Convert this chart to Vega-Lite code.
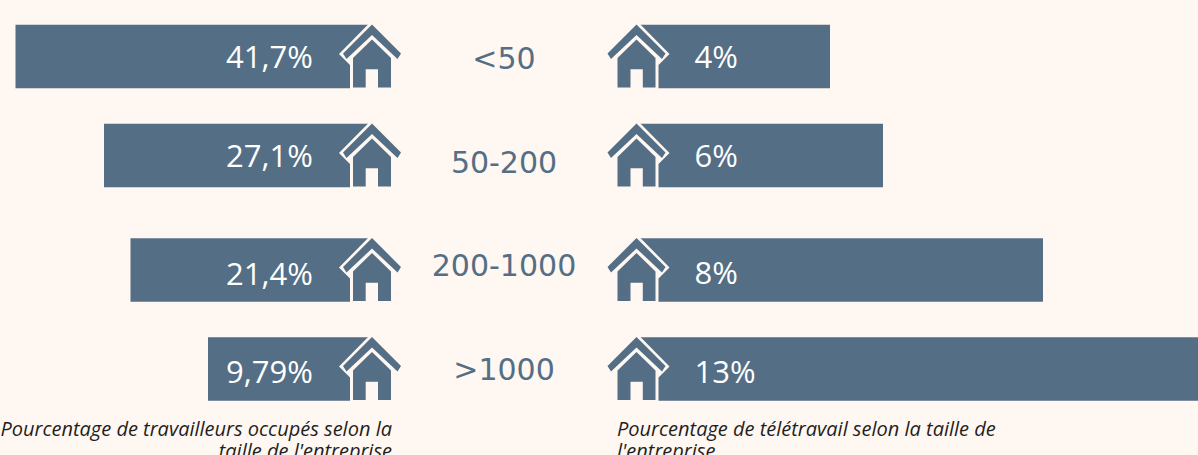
{
"$schema":"https://vega.github.io/schema/vega-lite/v6.json",
"width":1198,"height":455,"padding":0,"autosize":"none","background":"#fff7f1",
"config":{"view":{"stroke":null},"axis":{"domain":false}},
"datasets":{
"rows":[
{"taille":"<50","rang":1,"travailleurs":41.7,"teletravail":4,"labelTravailleurs":"41,7%","labelTeletravail":"4%"},
{"taille":"50-200","rang":2,"travailleurs":27.1,"teletravail":6,"labelTravailleurs":"27,1%","labelTeletravail":"6%"},
{"taille":"200-1000","rang":3,"travailleurs":21.4,"teletravail":8,"labelTravailleurs":"21,4%","labelTeletravail":"8%"},
{"taille":">1000","rang":4,"travailleurs":9.79,"teletravail":13,"labelTravailleurs":"9,79%","labelTeletravail":"13%"}
]},
"data":{"name":"rows"},
"resolve":{"scale":{"x":"independent","y":"independent"}},
"layer":[
{"mark":{"type":"bar","orient":"horizontal","height":63.5,"color":"#546e85"},
 "encoding":{"x":{"field":"travailleurs","type":"quantitative","axis":null,"scale":{"domain":[0,9.79,21.4,27.1,41.7],"range":[372,208,130.5,104,15.5],"nice":false,"zero":false,"padding":0}},"x2":{"datum":0},
 "y":{"field":"rang","type":"quantitative","axis":null,"scale":{"domain":[1,2,3,4],"range":[56.5,155.5,270,369],"nice":false,"zero":false,"padding":0}}}},
{"mark":{"type":"bar","orient":"horizontal","height":63.5,"color":"#546e85"},
 "encoding":{"x":{"field":"teletravail","type":"quantitative","axis":null,"scale":{"domain":[0,4,6,8,13],"range":[636.5,830,883,1043,1198],"nice":false,"zero":false,"padding":0}},"x2":{"datum":0},
 "y":{"field":"rang","type":"quantitative","axis":null,"scale":{"domain":[1,2,3,4],"range":[56.5,155.5,270,369],"nice":false,"zero":false,"padding":0}}}},
{"mark":{"type":"point","filled":true,"opacity":1,"size":4,"color":"#fff7f1","shape":"M0,-36L-33,-2.5L-22,8.5L-22,33L35,33L35,0Z"},
 "encoding":{"x":{"datum":0,"type":"quantitative","axis":null,"scale":{"domain":[0,41.7],"range":[372,15.5],"nice":false,"zero":false}},
 "y":{"field":"rang","type":"quantitative","axis":null,"scale":{"domain":[1,2,3,4],"range":[56.5,155.5,270,369],"nice":false,"zero":false}}}},
{"mark":{"type":"point","filled":true,"opacity":1,"size":4,"color":"#fff7f1","shape":"M0,-36L33,-2.5L22,8.5L22,33L-35,33L-35,0Z"},
 "encoding":{"x":{"datum":0,"type":"quantitative","axis":null,"scale":{"domain":[0,13],"range":[636.5,1198],"nice":false,"zero":false}},
 "y":{"field":"rang","type":"quantitative","axis":null,"scale":{"domain":[1,2,3,4],"range":[56.5,155.5,270,369],"nice":false,"zero":false}}}},
{"mark":{"type":"point","filled":true,"opacity":1,"size":4,"color":"#546e85","shape":"M0,-32L29,-3L25.5,2.5L0,-21.5L-25.5,2.5L-29,-3ZM0,-17L19,1.5L19,31L6,31L6,12.8L-6.3,12.8L-6.3,31L-19,31L-19,1.5Z"},
 "encoding":{"x":{"datum":0,"type":"quantitative","axis":null,"scale":{"domain":[0,41.7],"range":[372,15.5],"nice":false,"zero":false}},
 "y":{"field":"rang","type":"quantitative","axis":null,"scale":{"domain":[1,2,3,4],"range":[56.5,155.5,270,369],"nice":false,"zero":false}}}},
{"mark":{"type":"point","filled":true,"opacity":1,"size":4,"color":"#546e85","shape":"M0,-32L29,-3L25.5,2.5L0,-21.5L-25.5,2.5L-29,-3ZM0,-17L19,1.5L19,31L6.3,31L6.3,12.8L-6,12.8L-6,31L-19,31L-19,1.5Z"},
 "encoding":{"x":{"datum":0,"type":"quantitative","axis":null,"scale":{"domain":[0,13],"range":[636.5,1198],"nice":false,"zero":false}},
 "y":{"field":"rang","type":"quantitative","axis":null,"scale":{"domain":[1,2,3,4],"range":[56.5,155.5,270,369],"nice":false,"zero":false}}}},
{"mark":{"type":"text","align":"left","baseline":"middle","font":"Open Sans","fontSize":31,"color":"#ffffff","dx":-146},
 "encoding":{"text":{"field":"labelTravailleurs"},"x":{"datum":0,"type":"quantitative","axis":null,"scale":{"domain":[0,41.7],"range":[372,15.5],"nice":false,"zero":false}},
 "y":{"field":"rang","type":"quantitative","axis":null,"scale":{"domain":[1,2,3,4],"range":[59,158,276,374],"nice":false,"zero":false}}}},
{"mark":{"type":"text","align":"left","baseline":"middle","font":"Open Sans","fontSize":31,"color":"#ffffff","dx":58},
 "encoding":{"text":{"field":"labelTeletravail"},"x":{"datum":0,"type":"quantitative","axis":null,"scale":{"domain":[0,13],"range":[636.5,1198],"nice":false,"zero":false}},
 "y":{"field":"rang","type":"quantitative","axis":null,"scale":{"domain":[1,2,3,4],"range":[59,158,275,374],"nice":false,"zero":false}}}},
{"mark":{"type":"text","align":"center","baseline":"middle","font":"DejaVu Sans","fontSize":30,"color":"#546e85","dx":-132.5},
 "encoding":{"text":{"field":"taille"},"x":{"datum":0,"type":"quantitative","axis":null,"scale":{"domain":[0,13],"range":[636.5,1198],"nice":false,"zero":false}},
 "y":{"field":"rang","type":"quantitative","axis":null,"scale":{"domain":[1,2,3,4],"range":[59.5,163.5,266.5,370.5],"nice":false,"zero":false}}}},
{"data":{"values":[{"legende":"Pourcentage de travailleurs occupés selon la\ntaille de l'entreprise"}]},
 "mark":{"type":"text","align":"right","baseline":"alphabetic","font":"Open Sans","fontStyle":"italic","fontSize":20,"lineBreak":"\n","lineHeight":22.5,"color":"#1f1f1f","dx":20},
 "encoding":{"text":{"field":"legende"},"x":{"datum":0,"type":"quantitative","axis":null,"scale":{"domain":[0,41.7],"range":[372,15.5],"nice":false,"zero":false}},
 "y":{"datum":5,"type":"quantitative","axis":null,"scale":{"domain":[1,5],"range":[56.5,435.5],"nice":false,"zero":false}}}},
{"data":{"values":[{"legende":"Pourcentage de télétravail selon la taille de\nl'entreprise"}]},
 "mark":{"type":"text","align":"left","baseline":"alphabetic","font":"Open Sans","fontStyle":"italic","fontSize":20,"lineBreak":"\n","lineHeight":22.5,"color":"#1f1f1f","dx":-19.5},
 "encoding":{"text":{"field":"legende"},"x":{"datum":0,"type":"quantitative","axis":null,"scale":{"domain":[0,13],"range":[636.5,1198],"nice":false,"zero":false}},
 "y":{"datum":5,"type":"quantitative","axis":null,"scale":{"domain":[1,5],"range":[56.5,435.5],"nice":false,"zero":false}}}}
]
}
